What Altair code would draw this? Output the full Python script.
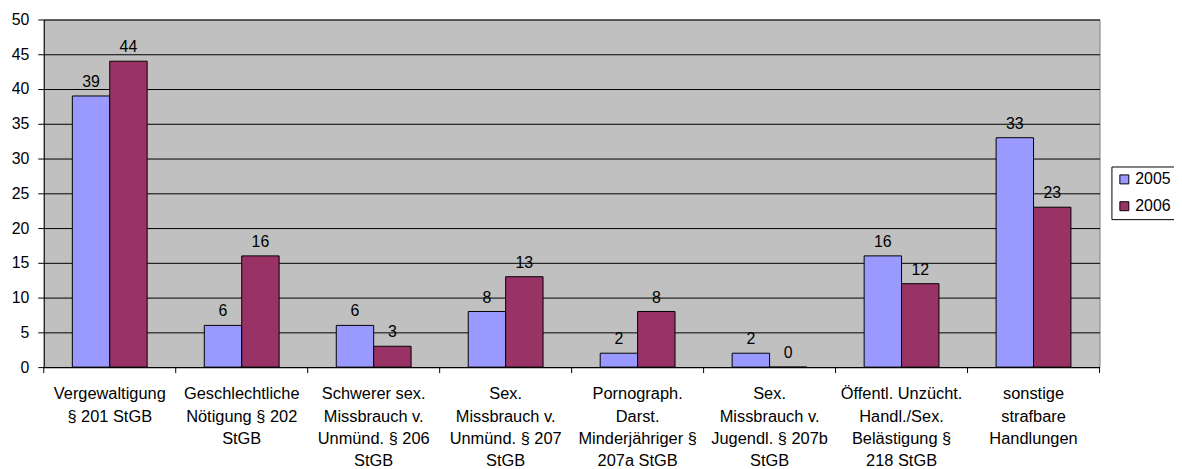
import altair as alt
import pandas as pd

categories = [
    "Vergewaltigung|§ 201 StGB",
    "Geschlechtliche|Nötigung § 202|StGB",
    "Schwerer sex.|Missbrauch v.|Unmünd. § 206|StGB",
    "Sex.|Missbrauch v.|Unmünd. § 207|StGB",
    "Pornograph.|Darst.|Minderjähriger §|207a StGB",
    "Sex.|Missbrauch v.|Jugendl. § 207b|StGB",
    "Öffentl. Unzücht.|Handl./Sex.|Belästigung §|218 StGB",
    "sonstige|strafbare|Handlungen",
]
years = ["2005", "2006"]
values_2005 = [39, 6, 6, 8, 2, 2, 16, 33]
values_2006 = [44, 16, 3, 13, 8, 0, 12, 23]
y_ticks = [0, 5, 10, 15, 20, 25, 30, 35, 40, 45, 50]
colors = ["#9999FF", "#993366"]

rows = []
for c, v in zip(categories, values_2005):
    rows.append({"cat": c, "year": "2005", "value": v})
for c, v in zip(categories, values_2006):
    rows.append({"cat": c, "year": "2006", "value": v})
df = pd.DataFrame(rows)
cat_df = pd.DataFrame({"cat": categories})

FONT = "Liberation Sans"
W, H = 1063, 350

x_enc = alt.X(
    "cat:N",
    sort=categories,
    scale=alt.Scale(paddingInner=0, paddingOuter=0),
    axis=alt.Axis(
        title=None,
        labelAngle=0,
        ticks=False,
        domain=True,
        domainColor="#000000",
        labelExpr="split(datum.label, '|')",
        labelFont=FONT,
        labelFontSize=16.5,
        labelColor="#000000",
        labelLineHeight=22.3,
        labelPadding=19,
        labelBaseline="top",
        grid=False,
    ),
)
xoff = alt.XOffset(
    "year:N", sort=years, scale=alt.Scale(paddingInner=0, paddingOuter=0.764)
)
y_enc = alt.Y(
    "value:Q",
    scale=alt.Scale(domain=[0, 50], nice=False),
    axis=alt.Axis(
        title=None,
        values=y_ticks,
        labelOverlap=False,
        grid=True,
        gridColor="#000000",
        gridWidth=1,
        gridOpacity=1,
        tickSize=6,
        tickColor="#000000",
        domainColor="#000000",
        labelFont=FONT,
        labelFontSize=16,
        labelColor="#000000",
        labelPadding=9,
    ),
)

bars = alt.Chart(df).mark_bar(stroke="#000000", strokeWidth=1).encode(
    x=x_enc,
    xOffset=xoff,
    y=y_enc,
    color=alt.Color(
        "year:N",
        sort=years,
        scale=alt.Scale(domain=years, range=colors),
        legend=alt.Legend(
            title=None,
            orient="none",
            legendX=1075,
            legendY=148,
            strokeColor="#000000",
            fillColor="#FFFFFF",
            padding=5,
            symbolType="square",
            symbolSize=81,
            symbolStrokeColor="#000000",
            symbolStrokeWidth=1,
            symbolOpacity=1,
            labelFont=FONT,
            labelFontSize=16,
            labelColor="#000000",
            labelOffset=3,
            rowPadding=11,
        ),
    ),
)

labels = alt.Chart(df).mark_text(
    font=FONT, fontSize=16, color="#000000", baseline="alphabetic", dy=-9
).encode(
    x=x_enc,
    xOffset=xoff,
    y=y_enc,
    text=alt.Text("value:Q"),
)

ticks = alt.Chart(cat_df).mark_rule(color="#000000", strokeWidth=1).encode(
    x=alt.X("cat:N", sort=categories, bandPosition=0),
    y=alt.value(H),
    y2=alt.value(H + 6),
)
end_tick = (
    alt.Chart(cat_df)
    .transform_filter(alt.datum.cat == categories[-1])
    .mark_rule(color="#000000", strokeWidth=1)
    .encode(
        x=alt.X("cat:N", sort=categories, bandPosition=1),
        y=alt.value(H),
        y2=alt.value(H + 6),
    )
)

chart = (
    alt.layer(bars, labels, ticks, end_tick)
    .properties(
        width=W,
        height=H,
        autosize=alt.AutoSizeParams(type="none"),
        padding={"left": 36, "top": 10, "right": 75, "bottom": 100},
        background="#FFFFFF",
    )
    .configure_view(fill="#C0C0C0", stroke="#808080", strokeWidth=1)
)

chart.save("out.html", embed_options={"renderer": "svg", "actions": False})
